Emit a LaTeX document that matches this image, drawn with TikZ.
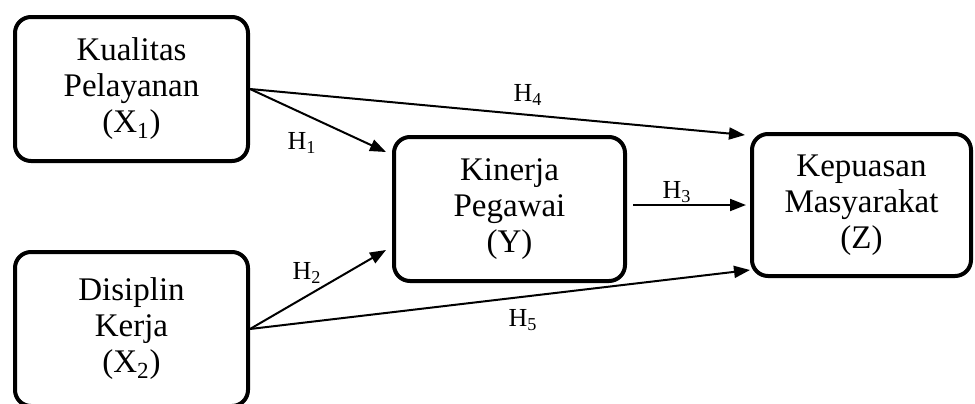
\documentclass[tikz,border=0pt]{standalone}
\usepackage{fontspec}
\setmainfont{Liberation Serif}
\usetikzlibrary{arrows.meta,positioning}
\tikzset{
  varbox/.style={draw=black, line width=2pt, rounded corners=8pt,
    fill=white, align=center, inner sep=2pt,
    minimum width=116.5pt, minimum height=72pt,
    font=\fontsize{16.5}{18}\selectfont},
  arrow/.style={-{Triangle[length=8pt,width=6pt]}, line width=1pt, draw=black},
  hyp/.style={font=\fontsize{13}{15}\selectfont, inner sep=0pt}
}

\begin{document}
\begin{tikzpicture}[x=0.5pt,y=0.5pt]
  \useasboundingbox (0,0) rectangle (975,403);

  \node[varbox] (kp) at (131.5,314) {Kualitas\\Pelayanan\\(X\textsubscript{1})};
  \node[varbox,minimum height=77pt] (dk) at (131.5,74) {Disiplin\\Kerja\\(X\textsubscript{2})};
  \node[varbox,minimum width=115.5pt] (kin) at (509.5,194) {Kinerja\\Pegawai\\(Y)};
  \node[varbox,minimum width=109.5pt,minimum height=71pt] (kep) at (861.5,198)
    {Kepuasan\\Masyarakat\\(Z)};

  \draw[arrow] (kp.east) -- ([shift={(-3pt,28.5pt)}]kin.west);
  \draw[arrow] (kp.east) -- ([shift={(-2.5pt,35pt)}]kep.west);
  \draw[arrow] (dk.east) -- ([shift={(-3pt,-20.5pt)}]kin.west);
  \draw[arrow] (dk.east) -- ([shift={(0pt,-32.5pt)}]kep.west);
  \draw[arrow] ([xshift=3pt]kin.east |- kep.west) -- ([xshift=-2pt]kep.west);

  \node[hyp] (h1) at (302,260) {H\textsubscript{1}};
  \node[hyp] (h2) at (307,130) {H\textsubscript{2}};
  \node[hyp] (h3) at (677,211) {H\textsubscript{3}};
  \node[hyp] (h4) at (528,308) {H\textsubscript{4}};
  \node[hyp] (h5) at (523,83) {H\textsubscript{5}};
\end{tikzpicture}
\end{document}
